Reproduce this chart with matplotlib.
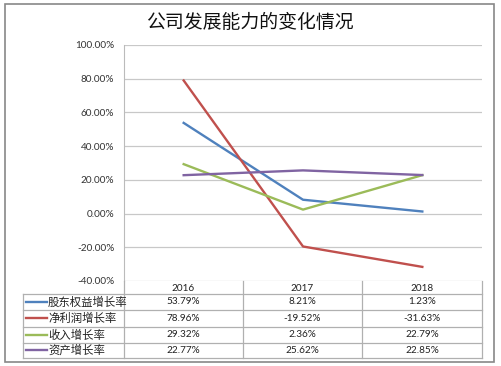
import matplotlib.pyplot as plt
import matplotlib.patches as patches
import numpy as np

years = ['2016', '2017', '2018']
names = ['股东权益增长率', '净利润增长率', '收入增长率', '资产增长率']
equity = [53.79, 8.21, 1.23]
profit = [78.96, -19.52, -31.63]
revenue = [29.32, 2.36, 22.79]
assets = [22.77, 25.62, 22.85]
colors = ['#4F81BD', '#C0504D', '#9BBB59', '#8064A2']
yticks = [-40, -20, 0, 20, 40, 60, 80, 100]

plt.rcParams['font.family'] = ['Lato', 'Noto Sans CJK SC', 'DejaVu Sans']

W, H = 501, 366
fig = plt.figure(figsize=(W / 100, H / 100), dpi=100)

def box(x0, y0, x1, y1):
    # pixel box (top-left origin) -> figure fraction
    return [x0 / W, (H - y1) / H, (x1 - x0) / W, (y1 - y0) / H]

# outer frame
fig.patches.append(patches.Rectangle((5 / W, 4 / H), 489 / W, 358 / H, transform=fig.transFigure,
                                     fill=False, edgecolor='#888888', lw=1.2))

fig.text(250 / W, 1 - 22 / H, '公司发展能力的变化情况', ha='center', va='center',
         fontsize=13.6, family=['Noto Sans CJK SC'], color='#111111')

ax = fig.add_axes(box(124, 45, 482, 281))
x = np.arange(len(years))
for vals, c in zip([equity, profit, revenue, assets], colors):
    ax.plot(x, vals, color=c, lw=1.7)
ax.set_xlim(-0.5, 2.5)
ax.set_ylim(-40, 100)
ax.set_yticks(yticks)
ax.set_yticklabels(['%.2f%%' % v for v in yticks], fontsize=7.2, color='#333333')
ax.set_xticks([])
ax.grid(axis='y', color='#C8C8C8', lw=0.9)
ax.tick_params(axis='y', length=0, pad=7)
for s in ['top', 'right', 'bottom']:
    ax.spines[s].set_visible(False)
ax.spines['left'].set_color('#BBBBBB')
ax.set_axisbelow(True)

# data table below the plot
tb = fig.add_axes(box(23, 281, 482, 358))
tb.set_xlim(23, 482)
tb.set_ylim(358, 281)
tb.axis('off')
col_x = [124, 243, 362, 482]
row_y = [281, 294, 310, 327, 343, 358]
lc = '#B0B0B0'
for yy in row_y[1:]:
    tb.plot([23, 482], [yy, yy], color=lc, lw=0.9, clip_on=False)
tb.plot([23, 23], [294, 358], color=lc, lw=0.9, clip_on=False)
for xx in col_x:
    tb.plot([xx, xx], [281, 358], color=lc, lw=0.9, clip_on=False)
for j, yr in enumerate(years):
    tb.text((col_x[j] + col_x[j + 1]) / 2, (row_y[0] + row_y[1]) / 2 + 1, yr,
            ha='center', va='center', fontsize=7.2, color='#222222')
for i, (nm, vals, c) in enumerate(zip(names, [equity, profit, revenue, assets], colors)):
    yc = (row_y[i + 1] + row_y[i + 2]) / 2
    tb.plot([26, 47], [yc, yc], color=c, lw=1.7, clip_on=False)
    tb.text(48, yc, nm, ha='left', va='center', fontsize=8.2, color='#222222',
            family=['Noto Sans CJK SC'])
    for j, v in enumerate(vals):
        tb.text((col_x[j] + col_x[j + 1]) / 2, yc, '%.2f%%' % v,
                ha='center', va='center', fontsize=7.2, color='#222222')

fig.savefig('out.png', dpi=100)
